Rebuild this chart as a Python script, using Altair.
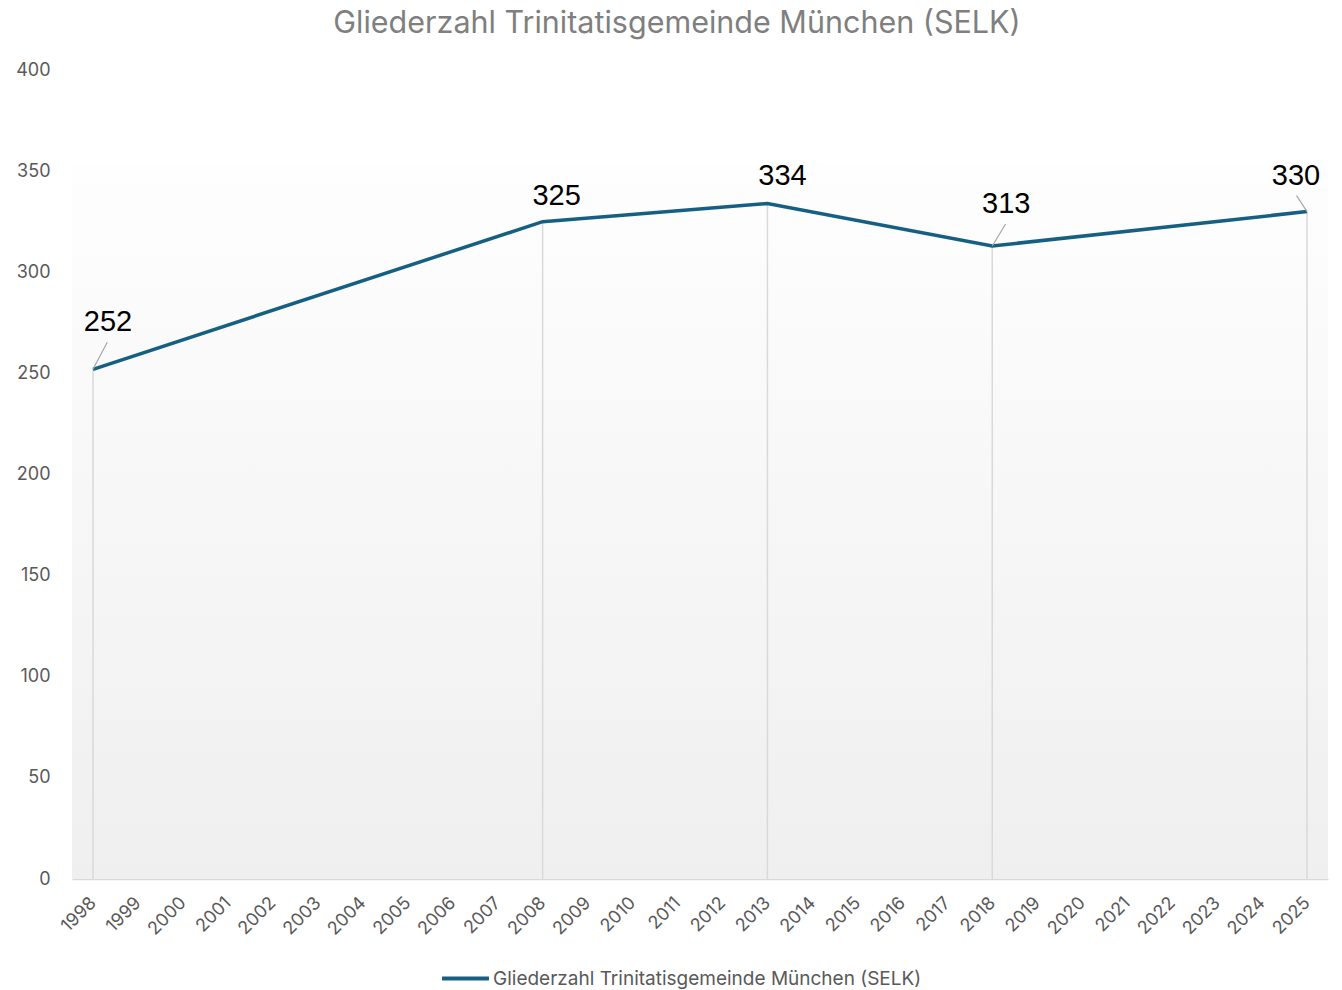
import altair as alt
import pandas as pd

years = list(range(1998, 2026))
data_years = [1998, 2008, 2013, 2018, 2025]
members = [252, 325, 334, 313, 330]
series_name = "Gliederzahl Trinitatisgemeinde München (SELK)"
y_ticks = [0, 50, 100, 150, 200, 250, 300, 350, 400]

df = pd.DataFrame({"year": data_years, "value": members, "series": series_name})

W, H = 1256, 809
LINE = "#156082"
GRAY_TXT = "#595959"
FONT = "Inter"

x_enc = alt.X("year:Q",
              scale=alt.Scale(domain=[1997.533, 2025.467], nice=False, zero=False),
              axis=alt.Axis(values=years, format="d", labelAngle=-45, labelAlign="right",
                            labelBaseline="middle", labelPadding=21, ticks=False,
                            domainColor="#d9d9d9", domainWidth=1.5, grid=False,
                            labelColor=GRAY_TXT, labelFontSize=18, labelFont=FONT,
                            title=None, labelOverlap=False))
y_enc = alt.Y("value:Q",
              scale=alt.Scale(domain=[0, 400], nice=False),
              axis=alt.Axis(values=y_ticks, ticks=False, domain=False, grid=False,
                            labelColor=GRAY_TXT, labelFontSize=18, labelFont=FONT,
                            labelPadding=22, title=None))

base = alt.Chart(df)

bg = alt.Chart(pd.DataFrame({"a": [0]})).mark_rect(
    color=alt.LinearGradient(
        gradient="linear", x1=0, x2=0, y1=0, y2=1,
        stops=[alt.GradientStop(color="#fefefe", offset=0),
               alt.GradientStop(color="#efefef", offset=1)])
).encode(x=alt.value(0), x2=alt.value(W), y=alt.value(93), y2=alt.value(H))

drops = base.mark_rule(color="#d9d9d9", strokeWidth=1.5).encode(
    x=x_enc, y=y_enc, y2=alt.datum(0))

line = base.mark_line(strokeWidth=3.5).encode(
    x=x_enc, y=y_enc,
    color=alt.Color("series:N", scale=alt.Scale(range=[LINE]),
                    legend=alt.Legend(orient="none", legendX=368, legendY=883,
                                      title=None, symbolType="stroke",
                                      symbolSize=2200, symbolStrokeWidth=4,
                                      labelFontSize=19, labelColor=GRAY_TXT,
                                      labelFont=FONT, labelOffset=2, labelLimit=0)))

offsets = {1998: (15, -47, True), 2008: (14, -26, False), 2013: (15, -27, False),
           2018: (14, -42, True), 2025: (-11, -36, True)}

layers = [bg, drops, line]
for yr, (dx, dy, leader) in offsets.items():
    sub = base.transform_filter(alt.datum.year == yr)
    layers.append(sub.mark_text(fontSize=29, font="Liberation Sans", color="#000000",
                                dx=dx, dy=dy, baseline="middle", align="center")
                  .encode(x=x_enc, y=y_enc, text=alt.Text("value:Q")))
    if leader:
        ldx = dx * 0.95
        ldy = dy + 20 if dy < -30 else dy + 12
        layers.append(sub.mark_rule(color="#a6a6a6", strokeWidth=1.2,
                                    x2Offset=ldx, y2Offset=ldy)
                      .encode(x=x_enc, y=y_enc, x2="year:Q", y2="value:Q"))

chart = alt.layer(*layers).properties(
    width=W, height=H,
    title=alt.TitleParams(series_name, fontSize=30.5, color="#7f7f7f", font=FONT,
                          fontWeight="normal", anchor="middle", dx=-23, offset=22),
    autosize=alt.AutoSizeParams(type="none"),
    padding={"left": 72, "top": 70, "right": 14, "bottom": 111},
).configure_view(stroke=None)

chart.save("out.html", embed_options={"renderer": "svg", "actions": False})
